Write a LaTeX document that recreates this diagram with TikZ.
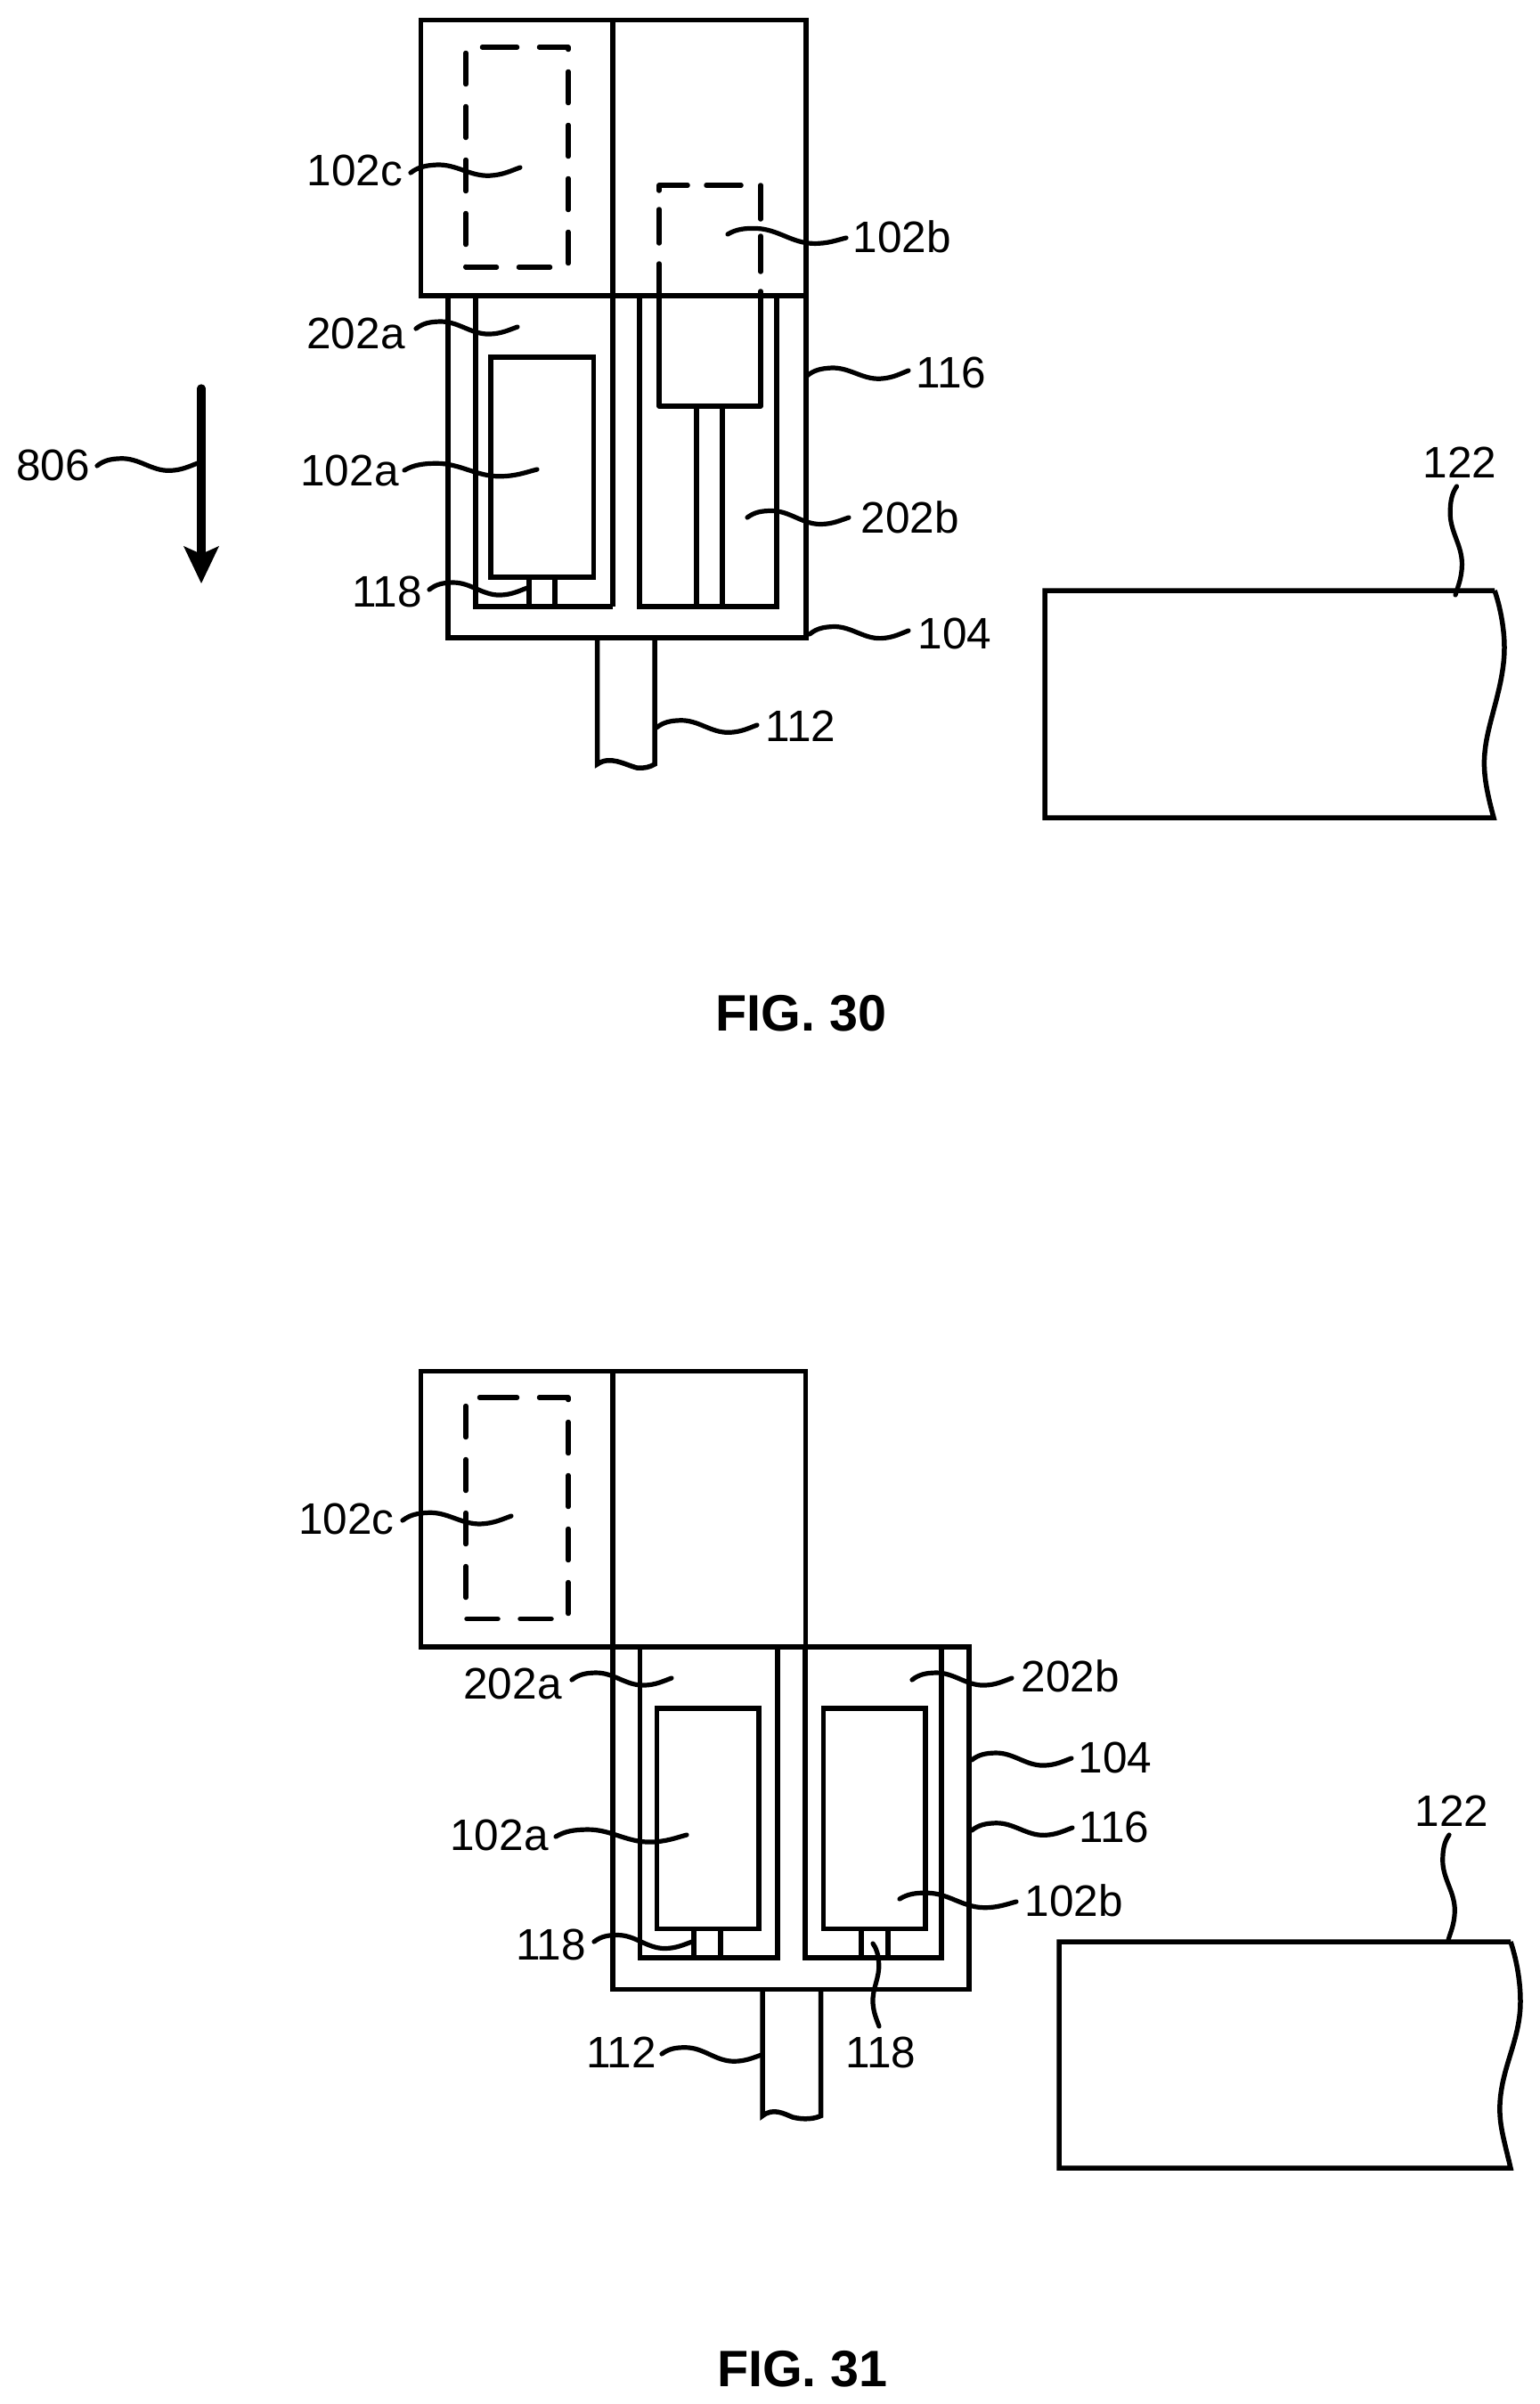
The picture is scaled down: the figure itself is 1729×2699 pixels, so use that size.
\documentclass[tikz,border=0pt]{standalone}
\usepackage{fontspec}
\setmainfont{Liberation Sans}
\usetikzlibrary{calc}
\tikzset{
  part/.style={line width=5.5pt,line join=miter,draw=black},
  dashpart/.style={line width=5.5pt,line cap=round,line join=round,draw=black,dash pattern=on 35pt off 25pt},
  dashseg/.style={line width=5.5pt,line cap=round,line join=round,draw=black},
  lead/.style={line width=5.2pt,line cap=round,draw=black},
  lab/.style={inner sep=0pt,font=\fontsize{49.5}{52}\selectfont},
  figlab/.style={inner sep=0pt,font=\fontsize{57.5}{60}\selectfont\bfseries}
}
% \leader[h]{start}{end}: wavy lead line between two named coordinates
\newcommand{\leader}[3][7.5pt]{%
  \draw[lead] (#2)
    .. controls ($(#2)!.07!(#3)!.8*#1!90:(#3)$) and ($(#2)!.14!(#3)!#1!90:(#3)$) .. ($(#2)!.24!(#3)!#1!90:(#3)$)
    .. controls ($(#2)!.42!(#3)!#1!90:(#3)$) and ($(#2)!.54!(#3)!-#1!90:(#3)$) .. ($(#2)!.72!(#3)!-#1!90:(#3)$)
    .. controls ($(#2)!.84!(#3)!-#1!90:(#3)$) and ($(#2)!.92!(#3)!-.4*#1!90:(#3)$) .. (#3);}
\begin{document}
\begin{tikzpicture}[x=1pt,y=-1pt]
\useasboundingbox (0,0) rectangle (1729,2699);

% ---------- FIG. 30 ----------
\draw[part] (472.5,22.5) rectangle (905,332);
\draw[part] (688,22.5) -- (688,681);
\draw[part] (503,332) -- (503,716) -- (905,716) -- (905,332);
\draw[part] (534,332) -- (534,681) -- (688,681);
\draw[part] (718,332) -- (718,681) -- (872,681) -- (872,332);
\draw[part] (551,401) rectangle (666.5,648);
\draw[part] (594,648) -- (594,681) (623,648) -- (623,681);
% dashed 102c
\draw[dashpart] (545.5,53) -- (638,53) -- (638,300) -- (523,300) -- (523,53) -- cycle;
% 102b, dashed above and solid below
\draw[dashseg] (740,296) -- (740,456) -- (854,456) -- (854,327);
\draw[dashseg] (740,235) -- (740,273);
\draw[dashseg] (740,214) -- (740,208) -- (772,208);
\draw[dashseg] (793,208) -- (832,208);
\draw[dashseg] (854,208) -- (854,246);
\draw[dashseg] (854,265) -- (854,305);
\draw[part] (782,456) -- (782,681) (811,456) -- (811,681);
% shaft 112
\draw[part] (670.5,716) -- (670.5,858) .. controls (685,848) and (700,858) .. (715,862) .. controls (723,863) and (730,861) .. (735,858) -- (735,716);
% arrow 806
\draw[line width=9.3pt,line cap=round] (226,436) -- (226,622);
\fill (206,613) -- (226,622) -- (246,613) -- (226,655) -- cycle;
% object 122
\draw[part] (1678,663) -- (1173,663) -- (1173,918) -- (1677,918)
  .. controls (1668,885) and (1665,865) .. (1667,845)
  .. controls (1670,810) and (1689,770) .. (1689,727)
  .. controls (1689,705) and (1684,680) .. (1678,663);

% labels
\node[lab] (l102c) at (398.5,191) {102c};
\node[lab] (l202a) at (399.5,374) {202a};
\node[lab] (l102a) at (392.5,528) {102a};
\node[lab] (l118)  at (434.5,664) {118};
\node[lab] (l112)  at (899,815) {112};
\node[lab] (l102b) at (1013,266) {102b};
\node[lab] (l116)  at (1068,418) {116};
\node[lab] (l202b) at (1022,581) {202b};
\node[lab] (l104)  at (1072,711) {104};
\node[lab] (l806)  at (59.5,522) {806};
\node[lab] (l122)  at (1639,519) {122};
\node[figlab] (fig30) at (899.5,1138) {FIG. 30};

% lead lines
\coordinate (a1) at (461,194);  \coordinate (a2) at (584,188);
\coordinate (b1) at (467,369);  \coordinate (b2) at (581,367);
\coordinate (c1) at (454,528);  \coordinate (c2) at (603,527);
\coordinate (d1) at (482,662);  \coordinate (d2) at (592,660);
\coordinate (e1) at (817,263);  \coordinate (e2) at (950,267);
\coordinate (f1) at (839,581);  \coordinate (f2) at (953,581);
\coordinate (g1) at (906,422);  \coordinate (g2) at (1020,416);
\coordinate (h1) at (909,712);  \coordinate (h2) at (1020,708);
\coordinate (i1) at (737,817);  \coordinate (i2) at (850,814);
\coordinate (j1) at (109,523);  \coordinate (j2) at (222,520);
\coordinate (k1) at (1635.5,546); \coordinate (k2) at (1634,668);
\leader{a1}{a2} \leader{b1}{b2} \leader{c1}{c2} \leader{d1}{d2}
\leader{e1}{e2} \leader{f1}{f2} \leader{g1}{g2} \leader{h1}{h2}
\leader{i1}{i2} \leader{j1}{j2} \leader[-7pt]{k1}{k2}

% ---------- FIG. 31 ----------
\draw[part] (472.5,1539.5) rectangle (904.5,1849);
\draw[part] (688,1539.5) -- (688,2233.5) -- (1088,2233.5) -- (1088,1849) -- (904.5,1849);
\draw[part] (718.5,1849) -- (718.5,2198) -- (873,2198) -- (873,1849);
\draw[part] (904,1849) -- (904,2198) -- (1057,2198) -- (1057,1849);
\draw[part] (737.5,1918) rectangle (852,2165.5);
\draw[part] (924.5,1918) rectangle (1039,2165.5);
\draw[part] (779,2165.5) -- (779,2198) (809,2165.5) -- (809,2198);
\draw[part] (967,2165.5) -- (967,2198) (997,2165.5) -- (997,2198);
\draw[dashpart] (545.5,1569) -- (638,1569) -- (638,1817.5) -- (523,1817.5) -- (523,1569) -- cycle;
% shaft 112
\draw[part] (856,2233.5) -- (856,2375.5) .. controls (868,2366) and (880,2373) .. (890,2377) .. controls (902,2380) and (914,2379) .. (921.5,2375.5) -- (921.5,2233.5);
% object 122
\draw[part] (1696,2180) -- (1189,2180) -- (1189,2434) -- (1696,2434)
  .. controls (1688,2400) and (1683,2385) .. (1684,2362)
  .. controls (1686,2320) and (1707,2290) .. (1707,2247)
  .. controls (1707,2222) and (1702,2198) .. (1696,2180);

\node[lab] (m102c) at (389,1705) {102c};
\node[lab] (m202a) at (575.5,1890) {202a};
\node[lab] (m102a) at (560.5,2060) {102a};
\node[lab] (m118)  at (618.5,2183) {118};
\node[lab] (m112)  at (697.5,2304) {112};
\node[lab] (m118b) at (989,2304) {118};
\node[lab] (m202b) at (1202,1882) {202b};
\node[lab] (m104)  at (1252,1973) {104};
\node[lab] (m116)  at (1251,2051) {116};
\node[lab] (m102b) at (1206,2134) {102b};
\node[lab] (m122)  at (1630,2033) {122};
\node[figlab] (fig31) at (901,2660) {FIG. 31};

\coordinate (n1) at (452,1707);  \coordinate (n2) at (574,1702);
\coordinate (o1) at (642,1886);  \coordinate (o2) at (754,1884);
\coordinate (p1) at (624,2062);  \coordinate (p2) at (771,2060);
\coordinate (q1) at (667,2180);  \coordinate (q2) at (777,2180);
\coordinate (r1) at (743,2306);  \coordinate (r2) at (855,2307);
\coordinate (s1) at (1024,1886); \coordinate (s2) at (1136,1884);
\coordinate (t1) at (1091,1976); \coordinate (t2) at (1203,1974);
\coordinate (u1) at (1091,2055); \coordinate (u2) at (1204,2052);
\coordinate (v1) at (1010,2132); \coordinate (v2) at (1141,2135);
\coordinate (w1) at (980,2182);  \coordinate (w2) at (987,2275);
\coordinate (y1) at (1627,2060); \coordinate (y2) at (1626,2178);
\leader{n1}{n2} \leader{o1}{o2} \leader{p1}{p2} \leader{q1}{q2}
\leader{r1}{r2} \leader{s1}{s2} \leader{t1}{t2} \leader{u1}{u2}
\leader{v1}{v2} \leader[5pt]{w1}{w2} \leader[-7pt]{y1}{y2}
\end{tikzpicture}
\end{document}
